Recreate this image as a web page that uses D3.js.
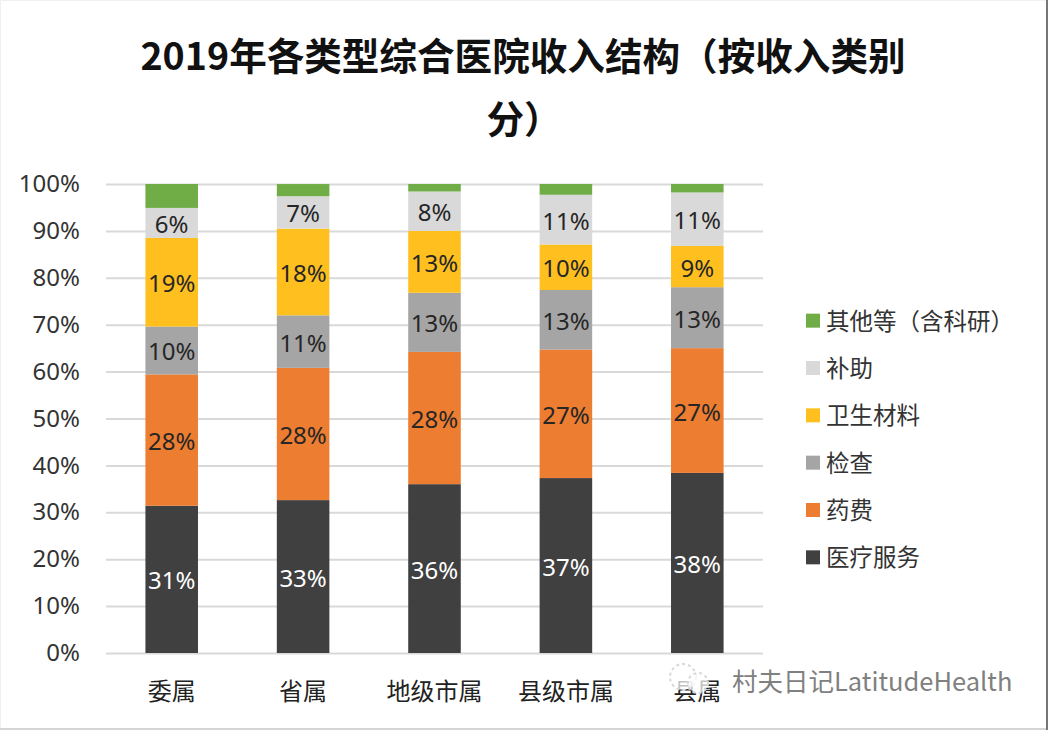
<!DOCTYPE html>
<html>
<head>
<meta charset="utf-8">
<script src="https://cdn.jsdelivr.net/npm/d3@7"></script>
<style>
	html, body { margin: 0; padding: 0; background: #fff; overflow: hidden; }
	text { font-family: "Noto Sans CJK SC", sans-serif; }
</style>
</head>
<body>
<svg id="chart"></svg>
<script>
var categories = ["委属", "省属", "地级市属", "县级市属", "县属"];
var seriesNames = ["医疗服务", "药费", "检查", "卫生材料", "补助", "其他等（含科研）"];
var seriesColors = ["#404040", "#ed7d31", "#a5a5a5", "#ffc01f", "#d9d9d9", "#70ad47"];
var labelColors = ["#fff", "#262626", "#262626", "#262626", "#262626", null];

// one list per series
var medical = [31.4, 32.6, 36.0, 37.3, 38.4];
var drugs = [28.0, 28.2, 28.2, 27.4, 26.6];
var tests = [10.2, 11.2, 12.6, 12.7, 13.0];
var supplies = [18.9, 18.49, 13.2, 9.7, 8.8];
var subsidy = [6.4, 6.9, 8.4, 10.6, 11.4];
var other = [5.1, 2.6, 1.6, 2.3, 1.8];
var seriesValues = [medical, drugs, tests, supplies, subsidy, other];

var yTicks = [0, 10, 20, 30, 40, 50, 60, 70, 80, 90, 100];
var titleLines = ["2019年各类型综合医院收入结构（按收入类别", "分）"];
var watermark = "村夫日记LatitudeHealth";

var width = 1048, height = 730;
var svg = d3.select("#chart").attr("width", width).attr("height", height);

var x = d3.scaleBand().domain(categories).range([106, 763]).paddingInner(.6).paddingOuter(.3);
var y = d3.scaleLinear().domain([0, 100]).range([653, 184]);

// screenshot edge
svg.append("path").attr("d", "M0.5,730V0.5H1048").attr("fill", "none").attr("stroke", "#f0f0f0");
svg.append("path").attr("d", "M0,729H1046").attr("fill", "none").attr("stroke", "#d4d4d4").attr("stroke-width", 2);
svg.append("path").attr("d", "M1047,0V730").attr("fill", "none").attr("stroke", "#777").attr("stroke-width", 2);

// title
svg.selectAll(".title").data(titleLines).enter().append("text")
	.attr("class", "title")
	.attr("x", function(d, i){ return i == 0 ? 523 : 524; })
	.attr("y", function(d, i){ return 70 + i * 63; })
	.attr("text-anchor", "middle")
	.attr("font-size", 37.6)
	.attr("font-weight", 700)
	.attr("fill", "#111")
	.text(function(d){ return d; });

// gridlines and tick labels
var yAxis = d3.axisLeft(y).tickValues(yTicks).tickSize(-(763 - 106)).tickPadding(26)
	.tickFormat(function(d){ return d + "%"; });
var yG = svg.append("g").attr("transform", "translate(106,0)").call(yAxis);
yG.select(".domain").remove();
yG.selectAll(".tick line").attr("stroke", "#d9d9d9").attr("stroke-width", 2);
yG.selectAll(".tick text").attr("font-size", 24).attr("fill", "#333")
	.style("font-family", "'Noto Sans', sans-serif");

var xAxis = d3.axisBottom(x).tickSize(0).tickPadding(30);
var xG = svg.append("g").attr("transform", "translate(0,653)").call(xAxis);
xG.select(".domain").remove();
xG.selectAll(".tick text").attr("font-size", 24).attr("fill", "#222");

// stacked bars
var rows = categories.map(function(c, i){
	var row = { category: c };
	seriesNames.forEach(function(s, k){ row[s] = seriesValues[k][i]; });
	return row;
});
var stacked = d3.stack().keys(seriesNames)(rows);

var groups = svg.selectAll(".series").data(stacked).enter().append("g")
	.attr("class", "series")
	.attr("fill", function(d, k){ return seriesColors[k]; });

groups.selectAll("rect").data(function(d){ return d; }).enter().append("rect")
	.attr("x", function(d){ return x(d.data.category); })
	.attr("y", function(d){ return y(d[1]); })
	.attr("width", x.bandwidth())
	.attr("height", function(d){ return y(d[0]) - y(d[1]); });

// value labels, the top series has none
groups.filter(function(d, k){ return labelColors[k] != null; })
	.selectAll("text").data(function(d){ return d; }).enter().append("text")
	.attr("x", function(d){ return x(d.data.category) + x.bandwidth()/2; })
	.attr("y", function(d){ return (y(d[0]) + y(d[1]))/2 + 10; })
	.attr("text-anchor", "middle")
	.attr("font-size", 24)
	.style("font-family", "'Noto Sans', sans-serif")
	.attr("fill", function(){ return labelColors[seriesNames.indexOf(this.parentNode.__data__.key)]; })
	.text(function(d){ return Math.round(d[1] - d[0]) + "%"; });

// legend, top entry is the last series
var legend = d3.scaleBand().domain(seriesNames.slice().reverse()).range([298, 582]);
var legendItems = svg.selectAll(".legend").data(seriesNames).enter().append("g")
	.attr("class", "legend")
	.attr("transform", function(d){ return "translate(806," + (legend(d) + legend.bandwidth()/2) + ")"; });
legendItems.append("rect")
	.attr("y", -8)
	.attr("width", 14)
	.attr("height", 14)
	.attr("fill", function(d, k){ return seriesColors[k]; });
legendItems.append("text")
	.attr("x", 20)
	.attr("y", 8)
	.attr("font-size", 23.5)
	.attr("fill", "#333")
	.text(function(d){ return d; });

// watermark: faint logo over the last label, then the name
var logo = svg.append("g").attr("fill", "#fff").attr("fill-opacity", .72)
	.attr("stroke", "#d8d8d8").attr("stroke-width", 2).attr("stroke-dasharray", "3 3");
logo.append("circle").attr("cx", 683).attr("cy", 677).attr("r", 13);
logo.append("circle").attr("cx", 698).attr("cy", 683).attr("r", 10);
svg.append("text")
	.attr("x", 732)
	.attr("y", 691)
	.attr("font-size", 25.5)
	.attr("fill", "#808080")
	.text(watermark);
</script>
</body>
</html>
